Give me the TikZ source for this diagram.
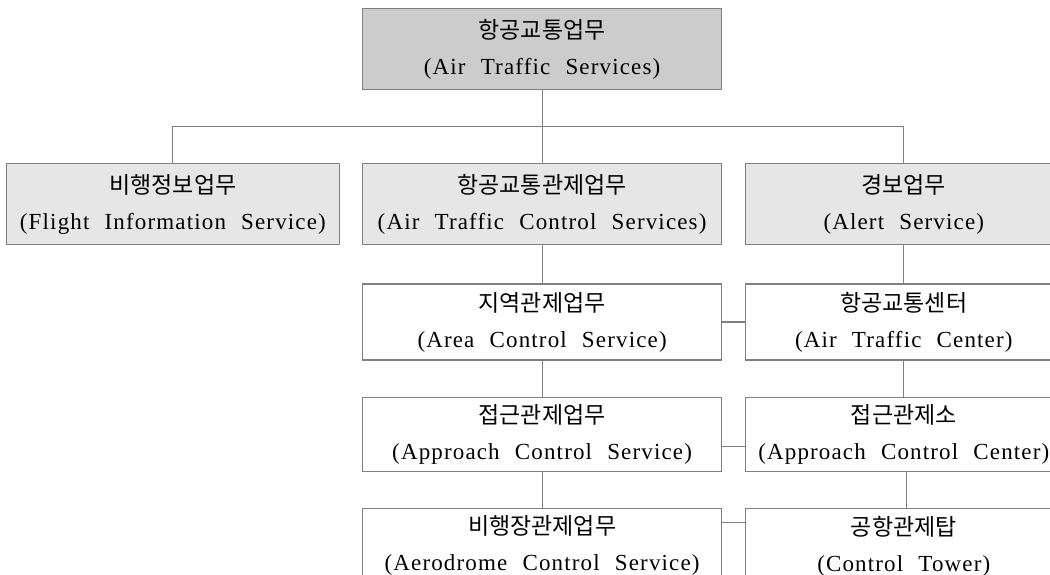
\documentclass[tikz,border=0pt]{standalone}
\usepackage{fontspec}
\setmainfont{Liberation Serif}[LetterSpace=5,WordSpace=2.2]
\newfontfamily\kr{Noto Sans CJK KR}[LetterSpace=0]
\usetikzlibrary{positioning, calc}
\definecolor{edgegray}{HTML}{808080}
\definecolor{topgray}{HTML}{CCCCCC}
\definecolor{rowgray}{HTML}{E6E6E6}
\tikzstyle{block} = [rectangle, draw=edgegray, line width=1.2pt, text centered, align=center, inner sep=0pt, minimum width=359pt, minimum height=76pt, fill=white, font=\fontsize{23}{36}\selectfont, execute at begin node=\rule{0pt}{26pt}]
\tikzstyle{narrow} = [block, minimum width=333pt]
\tikzstyle{side} = [block, minimum width=316pt]
\tikzstyle{link} = [draw=edgegray, line width=1.1pt]

\begin{document}
\begin{tikzpicture}[x=1pt, y=-1pt, node distance=36pt and 23pt]
	\useasboundingbox (0,0) rectangle (1050,575);
	\clip (0,0) rectangle (1050,575);

	% Top
	\node (ats) [block, anchor=north west, minimum height=81pt, fill=topgray] at (362,8) {{\kr 항공교통업무}\\(Air Traffic Services)};

	% Second row
	\node (atcs) [block, below=73pt of ats, minimum height=81pt, fill=rowgray] {{\kr 항공교통관제업무}\\(Air Traffic Control Services)};
	\node (fis) [narrow, left=22pt of atcs, minimum height=81pt, fill=rowgray] {{\kr 비행정보업무}\\(Flight Information Service)};
	\node (alert) [side, right=23pt of atcs, minimum height=81pt, fill=rowgray] {{\kr 경보업무}\\(Alert Service)};

	% Control services
	\node (area) [block, below=38pt of atcs] {{\kr 지역관제업무}\\(Area Control Service)};
	\node (appr) [block, below=36pt of area, minimum height=74pt] {{\kr 접근관제업무}\\(Approach Control Service)};
	\node (aero) [block, below=36pt of appr, minimum height=75pt] {{\kr 비행장관제업무}\\(Aerodrome Control Service)};

	% Units
	\node (atc) [side, right=of area] {{\kr 항공교통센터}\\(Air Traffic Center)};
	\node (apc) [side, right=of appr, minimum height=74pt] {{\kr 접근관제소}\\(Approach Control Center)};
	\node (tower) [side, right=of aero, minimum height=75pt] {{\kr 공항관제탑}\\(Control Tower)};

	% Tree
	\coordinate (split) at ($(ats.south)!0.5!(atcs.north)$);
	\draw[link] (ats) -- (atcs);
	\draw[link] (split) -| (fis);
	\draw[link] (split) -| (alert);
	\draw[link] (atcs) -- (area);
	\draw[link] (alert) -- (atc);
	\draw[link] (area) -- (appr);
	\draw[link] (appr) -- (aero);
	\draw[link] (atc) -- (apc);
	\draw[link] ([xshift=3pt]apc.south) -- ([xshift=3pt]tower.north);

	% Service to unit
	\draw[link] (area) -- (atc);
	\draw[link] ([yshift=-12pt]appr.east) -- ([yshift=-12pt]apc.west);
	\draw[link] ([yshift=23pt]aero.east) -- ([yshift=23pt]tower.west);

\end{tikzpicture}
\end{document}
